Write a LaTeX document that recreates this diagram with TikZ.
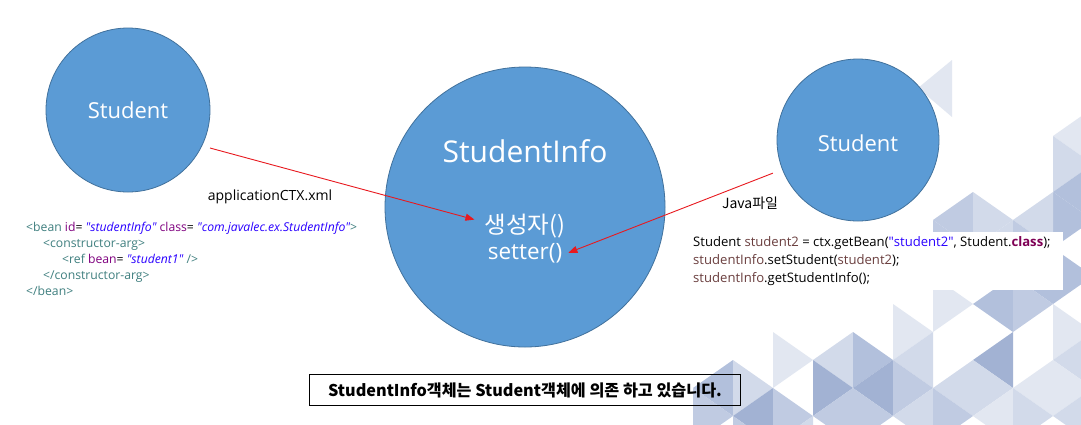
\documentclass[tikz,border=0pt]{standalone}
\usepackage{fontspec}
\setmainfont{Open Sans}
\newfontfamily\kr{Noto Sans CJK KR}
\usetikzlibrary{arrows.meta}
\definecolor{cblue}{HTML}{5B9BD5}
\definecolor{cedge}{HTML}{41719C}
\definecolor{tL}{HTML}{E2E7F1}
\definecolor{tK}{HTML}{D2DAEA}
\definecolor{tM}{HTML}{C0CBE2}
\definecolor{tN}{HTML}{B2C0DC}
\definecolor{tD}{HTML}{A2B2D3}
\definecolor{xtag}{HTML}{3F7F7F}
\definecolor{xatt}{HTML}{7F007F}
\definecolor{xval}{HTML}{2A00FF}
\definecolor{jvar}{HTML}{6A3E3E}
\definecolor{jkey}{HTML}{7F0055}
\definecolor{arr}{HTML}{E8191F}
\newcommand\RTri[3]{\fill[#3] (#1,#2) -- (#1,#2+56) -- (#1+40,#2+28) -- cycle;}
\newcommand\LTri[3]{\fill[#3] (#1,#2) -- (#1,#2+56) -- (#1-40,#2+28) -- cycle;}
\newcommand\q{\textquotedbl}
\newcommand\xT[1]{\textcolor{xtag}{#1}}
\newcommand\xA[1]{\textcolor{xatt}{#1}}
\newcommand\xV[1]{\textcolor{xval}{\itshape\q #1\q}}
\newcommand\jV[1]{\textcolor{jvar}{#1}}
\begin{document}
\begin{tikzpicture}[x=1pt,y=-1pt,
  circ/.style={circle, fill=cblue, draw=cedge, line width=0.8pt, inner sep=0pt},
  wt/.style={text=white, inner sep=2pt},
  redarr/.style={draw=arr, line width=0.9pt, -{Triangle[length=9pt,width=7pt]}},
  xml/.style={font=\fontsize{12.2}{14}\selectfont, anchor=base west, inner sep=0pt, text=black},
  java/.style={font=\fontsize{13.1}{15}\selectfont, anchor=base west, inner sep=0pt, text=black},
  lbl/.style={font=\fontsize{14}{17}\selectfont, anchor=base, inner sep=0pt}]
\useasboundingbox (0,0) rectangle (1081,424);
\fill[white] (0,0) rectangle (1081,424);
% background triangles
\fill[tL] (952,60) -- (952,117) -- (918,88) -- cycle;
\LTri{1093}{108}{tL}
\RTri{1053}{136}{tK}
\LTri{1093}{164}{tN}
\RTri{1053}{192}{tN}
\LTri{973}{192}{tM}
\RTri{973}{192}{tK}
\LTri{1053}{192}{tK}
\RTri{933}{220}{tM}
\LTri{1013}{220}{tK}
\RTri{1013}{220}{tM}
\RTri{1053}{248}{tN}
\LTri{1053}{248}{tN}
\LTri{733}{360}{tN}
\RTri{693}{388}{tM}
\RTri{733}{360}{tK}
\LTri{773}{388}{tD}
\RTri{773}{332}{tL}
\RTri{773}{388}{tM}
\LTri{853}{332}{tK}
\RTri{813}{360}{tD}
\LTri{853}{388}{tM}
\RTri{853}{332}{tN}
\LTri{893}{360}{tD}
\RTri{853}{388}{tM}
\RTri{893}{304}{tL}
\LTri{933}{332}{tK}
\RTri{893}{360}{tM}
\LTri{933}{388}{tK}
\RTri{933}{276}{tL}
\LTri{973}{360}{tK}
\RTri{933}{388}{tM}
\LTri{1013}{276}{tN}
\LTri{1013}{332}{tD}
\RTri{973}{360}{tK}
\LTri{1013}{388}{tL}
\RTri{1013}{276}{tM}
\LTri{1053}{360}{tL}
\RTri{1013}{388}{tK}
\RTri{1053}{304}{tL}
\LTri{1093}{332}{tK}
\RTri{1053}{360}{tL}
\LTri{1093}{388}{tK}
\RTri{733}{416}{tM}
\LTri{813}{416}{tK}
% white code background
\fill[white] (688,232) rectangle (1063,290);
% circles
\node[circ, minimum size=164pt] (s1) at (128,110) {};
\node[wt, font=\fontsize{22}{26}\selectfont, anchor=base] (s1t) at (128,118) {Student};
\node[circ, minimum size=280pt] (si) at (525,207) {};
\node[wt, font=\fontsize{30}{36}\selectfont, anchor=base] (sit) at (525,162) {StudentInfo};
\node[wt, font=\kr\fontsize{23.5}{28}\selectfont, anchor=base] (gen) at (525,233) {생성자()};
\node[wt, font=\fontsize{22.5}{27}\selectfont, anchor=base] (set) at (525,259) {setter()};
\node[circ, minimum size=162pt] (s2) at (858,140) {};
\node[wt, font=\fontsize{22}{26}\selectfont, anchor=base] (s2t) at (858,151) {Student};
% labels
\node[lbl] (lx) at (270,200) {applicationCTX.xml};
\node[lbl, font=\kr\fontsize{14}{17}\selectfont] (lj) at (750,208) {Java파일};
% xml code
\node[xml] (x1) at (26,231) {\xT{<bean} \xA{id}= \xV{studentInfo} \xA{class}= \xV{com.javalec.ex.StudentInfo}\xT{>}};
\node[xml] (x2) at (43,247) {\xT{<constructor-arg>}};
\node[xml] (x3) at (62,263) {\xT{<ref} \xA{bean}= \xV{student1} \xT{/>}};
\node[xml] (x4) at (43,279) {\xT{</constructor-arg>}};
\node[xml] (x5) at (26,295) {\xT{</bean>}};
% java code
\node[java] (j1) at (693,246) {Student \jV{student2} = ctx.getBean(\textcolor{xval}{\q student2\q}, Student.\textcolor{jkey}{\bfseries class});};
\node[java] (j2) at (693,264) {\jV{studentInfo}.setStudent(\jV{student2});};
\node[java] (j3) at (693,282) {\jV{studentInfo}.getStudentInfo();};
% bottom box
\node[draw=black, line width=0.8pt, minimum width=431pt, minimum height=31pt, inner sep=0pt] (box) at (524.5,389.5) {};
\node[font=\kr\bfseries\fontsize{16.2}{19}\selectfont, anchor=base, inner sep=0pt] (boxt) at (525,396) {StudentInfo객체는 Student객체에 의존 하고 있습니다.};
% arrows
\coordinate (a1) at (210,148);
\draw[redarr] (a1) -- ([xshift=-8pt,yshift=6pt]gen.west);
\draw[redarr, shorten <=10pt] (s2) -- ([xshift=4pt]set.east);
\end{tikzpicture}
\end{document}
